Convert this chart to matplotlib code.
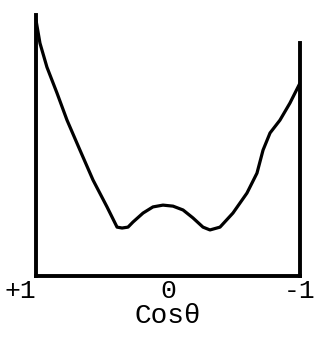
import matplotlib.pyplot as plt

# curve: cos(theta) from +1 (left) to -1 (right), arbitrary intensity
cos_theta = [1.0, 0.970, 0.917, 0.841, 0.765, 0.667, 0.568, 0.462, 0.386, 0.348, 0.303,
             0.265, 0.189, 0.114, 0.038, -0.038, -0.114, -0.189, -0.265, -0.318, -0.394,
             -0.492, -0.598, -0.674, -0.720, -0.773, -0.848, -0.924, -1.0]
intensity = [1.0, 0.910, 0.816, 0.715, 0.609, 0.492, 0.375, 0.270, 0.191, 0.1875, 0.191,
             0.211, 0.246, 0.270, 0.277, 0.273, 0.258, 0.227, 0.191, 0.18, 0.191,
             0.246, 0.324, 0.402, 0.492, 0.559, 0.609, 0.676, 0.754]
tick_pos = [1, 0, -1]
tick_labels = ['+1', '0', '-1']

plt.rcParams['font.family'] = ['Liberation Mono', 'DejaVu Sans Mono']

fig = plt.figure(figsize=(3.2, 3.45), dpi=100)
ax = fig.add_axes([36 / 320, 69 / 345, 264 / 320, 261 / 345])

ax.plot(cos_theta, intensity, color='black', linewidth=2.3,
        solid_joinstyle='round', solid_capstyle='round')

ax.set_xlim(1, -1)
ax.set_ylim(0, 1.02)
ax.spines['top'].set_visible(False)
for side in ['left', 'right', 'bottom']:
    ax.spines[side].set_linewidth(2.8)
ax.spines['right'].set_bounds(0, 0.91)

ax.set_yticks([])
ax.set_xticks(tick_pos)
ax.set_xticklabels(tick_labels, fontsize=19)
labels = ax.get_xticklabels()
labels[0].set_ha('right')
ax.tick_params(axis='x', length=0, pad=2)
ax.set_xlabel('Cos\u03b8', fontsize=20, labelpad=0)

fig.savefig('out.png', dpi=100)
